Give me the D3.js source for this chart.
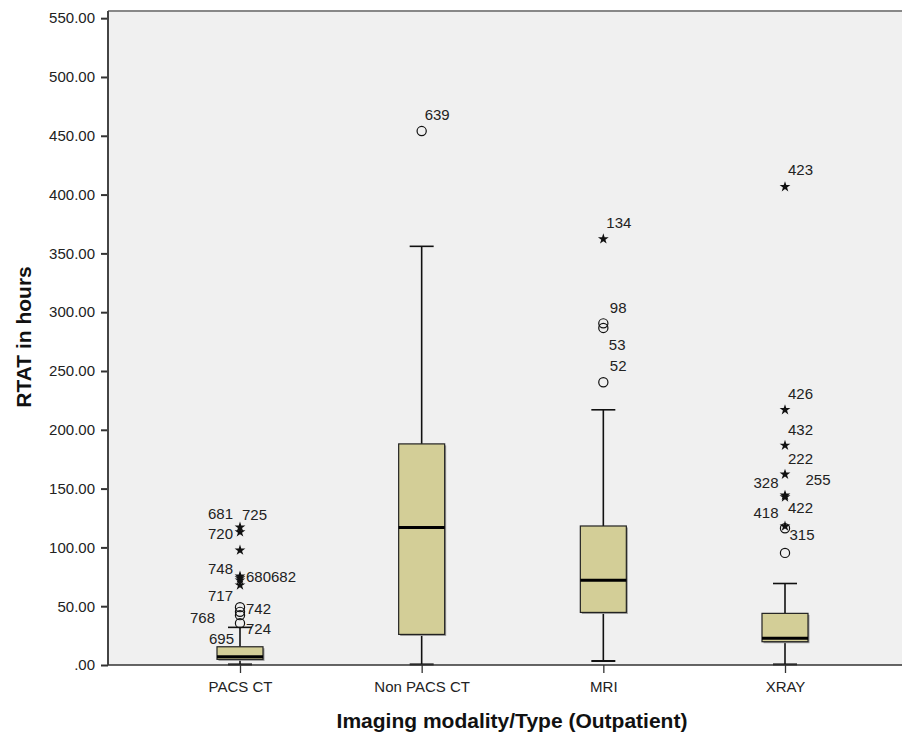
<!DOCTYPE html>
<html>
<head>
<meta charset="utf-8">
<script src="https://cdn.jsdelivr.net/npm/d3@7"></script>
<style>
  body { margin: 0; background: #fff; }
  svg { display: block; font-family: "Liberation Sans", Arial, sans-serif; }
</style>
</head>
<body>
<div id="chart"></div>
<script>
// Box plot summary per modality (hours)
const categories = ["PACS CT", "Non PACS CT", "MRI", "XRAY"];
const whiskerLow = [0.5, 0.5, 3.4, 0.5];
const q1 = [4.8, 26, 44.7, 19.8];
const medians = [7, 117, 72, 22.7];
const q3 = [15.5, 188, 118.2, 43.9];
const whiskerHigh = [32, 356, 217, 69.3];
const yTicks = [0, 50, 100, 150, 200, 250, 300, 350, 400, 450, 500, 550];

// Outliers: o = circle (outlier), s = star (extreme)
const outliers = [
  { cat: "PACS CT", id: "681", value: 117.1, kind: "s" },
  { cat: "PACS CT", id: "725", value: 113.1, kind: "s" },
  { cat: "PACS CT", id: "720", value: 97.6, kind: "s" },
  { cat: "PACS CT", id: "748", value: 75.5, kind: "s" },
  { cat: "PACS CT", id: "680", value: 74, kind: "s" },
  { cat: "PACS CT", id: "682", value: 72.1, kind: "s" },
  { cat: "PACS CT", id: "717", value: 67.9, kind: "s" },
  { cat: "PACS CT", id: "742", value: 49.2, kind: "o" },
  { cat: "PACS CT", id: "768", value: 45.2, kind: "o" },
  { cat: "PACS CT", id: "724", value: 42.4, kind: "o" },
  { cat: "PACS CT", id: "695", value: 35.6, kind: "o" },
  { cat: "Non PACS CT", id: "639", value: 454, kind: "o" },
  { cat: "MRI", id: "134", value: 362.2, kind: "s" },
  { cat: "MRI", id: "98", value: 290.5, kind: "o" },
  { cat: "MRI", id: "53", value: 286.6, kind: "o" },
  { cat: "MRI", id: "52", value: 240.4, kind: "o" },
  { cat: "XRAY", id: "423", value: 406.6, kind: "s" },
  { cat: "XRAY", id: "426", value: 217, kind: "s" },
  { cat: "XRAY", id: "432", value: 186.7, kind: "s" },
  { cat: "XRAY", id: "222", value: 162.1, kind: "s" },
  { cat: "XRAY", id: "328", value: 144.3, kind: "s" },
  { cat: "XRAY", id: "255", value: 142.8, kind: "s" },
  { cat: "XRAY", id: "422", value: 118, kind: "s" },
  { cat: "XRAY", id: "418", value: 116.3, kind: "o" },
  { cat: "XRAY", id: "315", value: 95.3, kind: "o" }
];

// label placement relative to the marker: [dx, dy, anchor]
const labelPlace = {
  "681": [-7, -14, "end"], "725": [2, -17, "start"], "720": [-7, -16, "end"],
  "748": [-7, -7, "end"], "680": [6, -1, "start"], "682": [31, -3, "start"],
  "717": [-7, 11, "end"], "742": [6, 2, "start"], "768": [-25, 6, "end"],
  "724": [6, 14, "start"], "695": [-6, 16, "end"],
  "639": [3, -16, "start"],
  "134": [3, -16.5, "start"], "98": [6.5, -16, "start"], "53": [5.5, 17, "start"],
  "52": [6.5, -16.5, "start"],
  "423": [3, -17, "start"], "426": [3, -16.5, "start"], "432": [3, -15.5, "start"],
  "222": [3, -15.5, "start"], "328": [-6.5, -13, "end"], "255": [20.5, -17, "start"],
  "422": [3, -18.5, "start"], "418": [-6.5, -15.5, "end"], "315": [4.5, -18.5, "start"]
};

const width = 902, height = 736;
const plot = { left: 108, top: 11, right: 920, bottom: 665 };

const svg = d3.select("#chart").append("svg")
  .attr("width", width)
  .attr("height", height);

const x = d3.scalePoint().domain(categories).range([240, 785]);
const y = d3.scaleLinear().domain([0, 556.1]).range([plot.bottom, plot.top]);

// plot background
svg.append("rect")
  .attr("x", plot.left)
  .attr("y", plot.top)
  .attr("width", plot.right - plot.left)
  .attr("height", plot.bottom - plot.top)
  .attr("fill", "#f0f0f0");

// top border
svg.append("line")
  .attr("x1", plot.left).attr("x2", plot.right)
  .attr("y1", plot.top).attr("y2", plot.top)
  .attr("stroke", "#888").attr("stroke-width", 2);

// Y axis
const yAxis = svg.append("g")
  .attr("transform", `translate(${plot.left},0)`)
  .call(d3.axisLeft(y)
    .tickValues(yTicks)
    .tickSize(7)
    .tickPadding(6)
    .tickFormat(d => d === 0 ? ".00" : d.toFixed(2)));
yAxis.select(".domain").remove();
yAxis.selectAll(".tick line").attr("stroke", "#333").attr("stroke-width", 2);
yAxis.selectAll(".tick text").style("font-size", "15px").attr("fill", "#222");

// X axis
const xAxis = svg.append("g")
  .attr("transform", `translate(0,${plot.bottom})`)
  .call(d3.axisBottom(x).tickSize(8).tickPadding(8));
xAxis.select(".domain").remove();
xAxis.selectAll(".tick line").attr("stroke", "#333").attr("stroke-width", 1.3);
xAxis.selectAll(".tick text").style("font-size", "15px").attr("fill", "#222");

// boxes
const boxW = 46, capW = 24;
const boxes = svg.append("g").selectAll("g")
  .data(categories)
  .join("g")
  .attr("transform", d => `translate(${x(d)},0)`);

boxes.append("line")
  .attr("y1", (d, i) => y(whiskerLow[i]))
  .attr("y2", (d, i) => y(q1[i]))
  .attr("stroke", "#111").attr("stroke-width", 1.6);
boxes.append("line")
  .attr("y1", (d, i) => y(q3[i]))
  .attr("y2", (d, i) => y(whiskerHigh[i]))
  .attr("stroke", "#111").attr("stroke-width", 1.6);
boxes.append("line")
  .attr("x1", -capW / 2).attr("x2", capW / 2)
  .attr("y1", (d, i) => y(whiskerHigh[i]))
  .attr("y2", (d, i) => y(whiskerHigh[i]))
  .attr("stroke", "#111").attr("stroke-width", 1.6);
boxes.append("line")
  .attr("x1", -capW / 2).attr("x2", capW / 2)
  .attr("y1", (d, i) => y(whiskerLow[i]))
  .attr("y2", (d, i) => y(whiskerLow[i]))
  .attr("stroke", "#111").attr("stroke-width", 2);

// shadow then box
boxes.append("rect")
  .attr("x", -boxW / 2 + 1.5)
  .attr("y", (d, i) => y(q3[i]) + 1.5)
  .attr("width", boxW)
  .attr("height", (d, i) => y(q1[i]) - y(q3[i]))
  .attr("fill", "#9a9a9a");
boxes.append("rect")
  .attr("x", -boxW / 2)
  .attr("y", (d, i) => y(q3[i]))
  .attr("width", boxW)
  .attr("height", (d, i) => y(q1[i]) - y(q3[i]))
  .attr("fill", "#d3ce97")
  .attr("stroke", "#222")
  .attr("stroke-width", 1.2);
boxes.append("line")
  .attr("x1", -boxW / 2).attr("x2", boxW / 2)
  .attr("y1", (d, i) => y(medians[i]))
  .attr("y2", (d, i) => y(medians[i]))
  .attr("stroke", "#000").attr("stroke-width", 3);

// axis lines (drawn over)
svg.append("line")
  .attr("x1", plot.left).attr("x2", plot.left)
  .attr("y1", plot.top).attr("y2", plot.bottom)
  .attr("stroke", "#444").attr("stroke-width", 2);
svg.append("line")
  .attr("x1", plot.left).attr("x2", plot.right)
  .attr("y1", plot.bottom).attr("y2", plot.bottom)
  .attr("stroke", "#333").attr("stroke-width", 1.5);

// outlier markers
const marks = svg.append("g");
const star = d3.symbol().type(d3.symbolStar).size(36);
outliers.forEach(d => {
  const cx = x(d.cat), cy = y(d.value);
  if (d.kind === "o") {
    marks.append("circle")
      .attr("cx", cx).attr("cy", cy).attr("r", 4.6)
      .attr("fill", "none").attr("stroke", "#111").attr("stroke-width", 1.2);
  } else {
    marks.append("path")
      .attr("d", star)
      .attr("transform", `translate(${cx},${cy})`)
      .attr("fill", "#111");
  }
  const p = labelPlace[d.id];
  marks.append("text")
    .attr("x", cx + p[0])
    .attr("y", cy + p[1])
    .attr("dy", "0.35em")
    .attr("text-anchor", p[2])
    .style("font-size", "15px")
    .attr("fill", "#222")
    .text(d.id);
});

// axis titles
svg.append("text")
  .attr("text-anchor", "middle")
  .attr("transform", "translate(31,337) rotate(-90)")
  .style("font-size", "21px")
  .style("font-weight", "bold")
  .attr("fill", "#111")
  .text("RTAT in hours");

svg.append("text")
  .attr("text-anchor", "middle")
  .attr("x", 512)
  .attr("y", 728)
  .style("font-size", "21px")
  .style("font-weight", "bold")
  .attr("fill", "#111")
  .text("Imaging modality/Type (Outpatient)");
</script>
</body>
</html>
